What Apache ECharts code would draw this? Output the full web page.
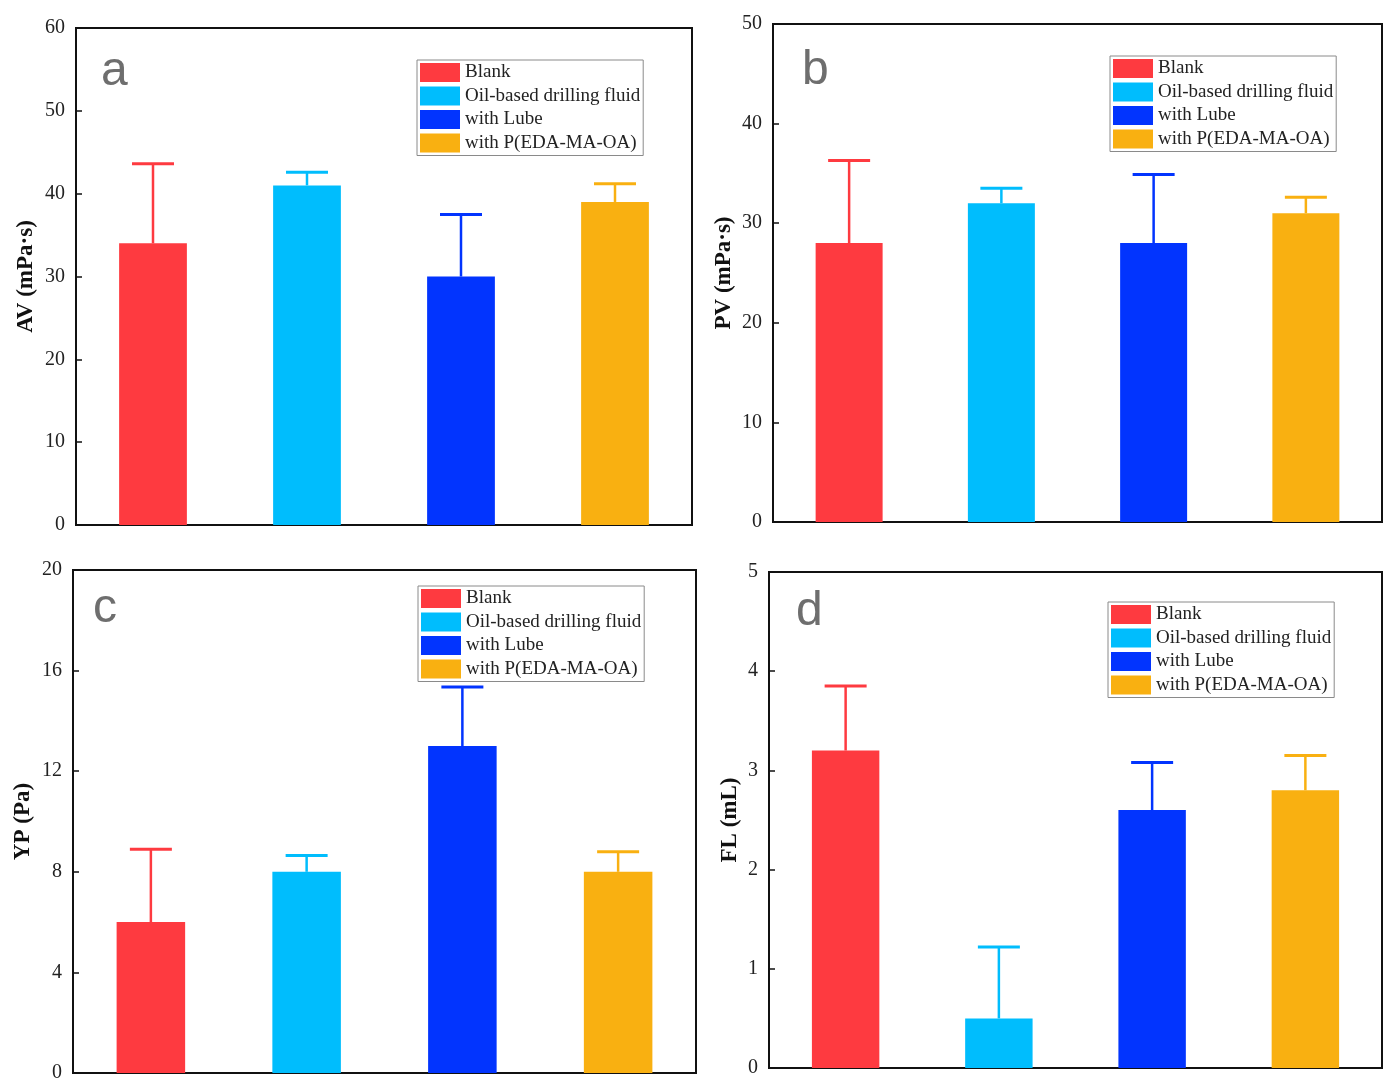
<!DOCTYPE html>
<html>
<head>
<meta charset="utf-8">
<title>Drilling fluid properties</title>
<script src="https://cdn.jsdelivr.net/npm/echarts@6/dist/echarts.min.js"></script>
<style>
	html, body { margin: 0; padding: 0; background: #fff; }
	#main { width: 1394px; height: 1092px; }
</style>
</head>
<body>
<div id="main"></div>
<script type="text/javascript">

var groups = ['Blank', 'Oil-based drilling fluid', 'with Lube', 'with P(EDA-MA-OA)'];
var colors = ['#fe3a40', '#00bdfd', '#0234fe', '#f9b011'];

// a - AV
var avValues = [34, 41, 30, 39];
var avErrors = [9.6, 1.6, 7.5, 2.2];
// b - PV
var pvValues = [28, 32, 28, 31];
var pvErrors = [8.3, 1.5, 6.9, 1.6];
// c - YP
var ypValues = [6, 8, 13, 8];
var ypErrors = [2.9, 0.65, 2.35, 0.8];
// d - FL
var flValues = [3.2, 0.5, 2.6, 2.8];
var flErrors = [0.65, 0.72, 0.48, 0.35];

var panelLabels = ['a', 'b', 'c', 'd'];
var axisNames = ['AV (mPa\u00b7s)', 'PV (mPa\u00b7s)', 'YP (Pa)', 'FL (mL)'];
var axisMax = [60, 50, 20, 5];
var axisStep = [10, 10, 4, 1];

var panels = [
	{ values: avValues, errors: avErrors, grid: { left: 76, top: 28, width: 616, height: 497 }, legend: { left: 417, top: 60 }, label: [101, 72], nameGap: 38 },
	{ values: pvValues, errors: pvErrors, grid: { left: 773, top: 24, width: 609, height: 498 }, legend: { left: 1110, top: 56 }, label: [802, 71], nameGap: 37 },
	{ values: ypValues, errors: ypErrors, grid: { left: 73, top: 570, width: 623, height: 503 }, legend: { left: 418, top: 586 }, label: [93, 609], nameGap: 38 },
	{ values: flValues, errors: flErrors, grid: { left: 769, top: 572, width: 613, height: 496 }, legend: { left: 1108, top: 602 }, label: [796, 612], nameGap: 27 }
];

var serifFont = '"Liberation Serif", "Times New Roman", serif';

var grids = [], xAxes = [], yAxes = [], legends = [], series = [], texts = [];

for (var p = 0; p < panels.length; p++) {
	var pn = panels[p];
	var g = pn.grid;
	grids.push({
		left: g.left, top: g.top, width: g.width, height: g.height,
		show: true, borderColor: '#111', borderWidth: 2, backgroundColor: 'transparent'
	});
	xAxes.push({
		type: 'category', gridIndex: p, data: groups,
		axisLine: { lineStyle: { color: '#111', width: 2 } },
		axisTick: { show: false }, axisLabel: { show: false }, splitLine: { show: false }
	});
	yAxes.push({
		type: 'value', gridIndex: p, min: 0, max: axisMax[p], interval: axisStep[p],
		name: axisNames[p], nameLocation: 'middle', nameGap: pn.nameGap,
		nameTextStyle: { fontFamily: serifFont, fontSize: 23, fontWeight: 'bold', color: '#111' },
		axisLine: { show: true, lineStyle: { color: '#111', width: 2 } },
		axisTick: { show: true, inside: true, length: 6, lineStyle: { color: '#111', width: 1.5 } },
		axisLabel: { fontFamily: serifFont, fontSize: 20, color: '#222', margin: 11 },
		splitLine: { show: false }
	});
	legends.push({
		orient: 'vertical', left: pn.legend.left, top: pn.legend.top,
		data: groups, icon: 'rect', itemWidth: 40, itemHeight: 19, itemGap: 4.5,
		padding: [3, 3, 3, 3], borderColor: '#8a8a8a', borderWidth: 1,
		textStyle: { fontFamily: serifFont, fontSize: 19, color: '#222' },
		selectedMode: false
	});
	for (var i = 0; i < groups.length; i++) {
		var d = groups.map(function (c, k) { return k === i ? pn.values[k] : '-'; });
		series.push({
			name: groups[i], type: 'bar', xAxisIndex: p, yAxisIndex: p,
			data: d, barWidth: '44%', barGap: '-100%',
			itemStyle: { color: colors[i] },
			silent: true
		});
	}
	var errData = [];
	for (var k = 0; k < groups.length; k++) {
		errData.push([k, pn.values[k], pn.values[k] + pn.errors[k]]);
	}
	series.push({
		type: 'custom', xAxisIndex: p, yAxisIndex: p, data: errData, z: 3, silent: true,
		renderItem: function (params, api) {
			var idx = api.value(0);
			var base = api.coord([idx, api.value(1)]);
			var top = api.coord([idx, api.value(2)]);
			var c = colors[idx];
			return {
				type: 'group',
				children: [
					{ type: 'line', shape: { x1: base[0], y1: base[1], x2: top[0], y2: top[1] }, style: { stroke: c, lineWidth: 2.5 } },
					{ type: 'line', shape: { x1: top[0] - 21, y1: top[1], x2: top[0] + 21, y2: top[1] }, style: { stroke: c, lineWidth: 3 } }
				]
			};
		}
	});
	texts.push({
		type: 'text', left: pn.label[0], top: pn.label[1] - 24, silent: true,
		style: { text: panelLabels[p], fontFamily: '"Liberation Sans", Arial, sans-serif', fontSize: 48, fill: '#6e6e6e' }
	});
}

var chart = echarts.init(document.getElementById('main'), null, { renderer: 'canvas' });
chart.setOption({
	animation: false,
	backgroundColor: '#fff',
	grid: grids,
	xAxis: xAxes,
	yAxis: yAxes,
	legend: legends,
	series: series,
	graphic: texts
});

</script>
</body>
</html>
